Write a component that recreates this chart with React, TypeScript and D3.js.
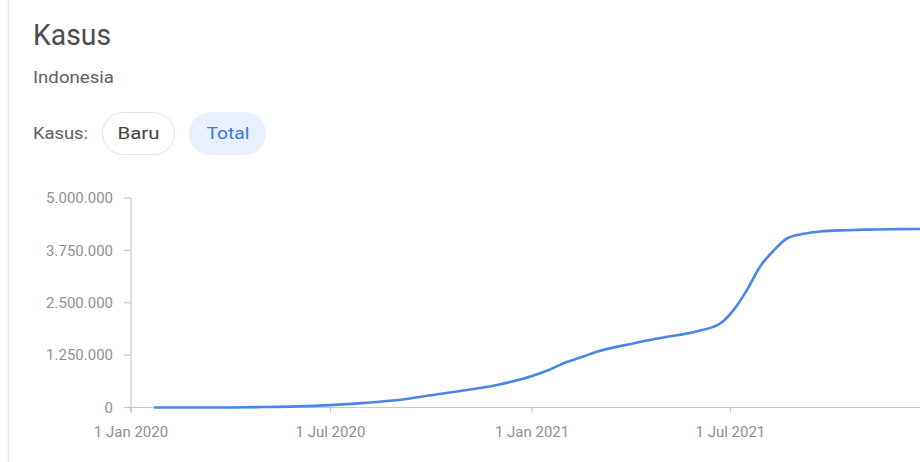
import React from "react";
import * as d3 from "d3";

const dates = [
  "2020-01-22", "2020-03-01", "2020-04-01", "2020-05-01", "2020-06-01", "2020-07-01",
  "2020-08-01", "2020-09-01", "2020-10-01", "2020-11-01", "2020-12-01", "2021-01-01",
  "2021-01-15", "2021-02-01", "2021-02-15", "2021-03-01", "2021-04-01", "2021-05-01",
  "2021-06-01", "2021-06-22", "2021-07-04", "2021-07-16", "2021-07-28", "2021-08-10",
  "2021-08-22", "2021-09-09", "2021-09-21", "2021-10-15", "2021-11-01", "2021-12-01",
  "2021-12-22",
];
const totals = [
  0, 0, 1677, 10551, 26940, 57770,
  109936, 177571, 291182, 412784, 543975, 751270,
  882418, 1080000, 1200000, 1330000, 1517854, 1672880,
  1821703, 2010000, 2330000, 2800000, 3360000, 3760000,
  4040000, 4160000, 4200000, 4232000, 4245373, 4256409,
  4261000,
];
const yTicks = [0, 1250000, 2500000, 3750000, 5000000];
const xTickDates = ["2020-01-01", "2020-07-01", "2021-01-01", "2021-07-01"];
const title = "Kasus";
const subtitle = "Indonesia";
const chipLabel = "Kasus:";
const chips = ["Baru", "Total"];

const parse = d3.utcParse("%Y-%m-%d");
const locale = d3.formatLocale({ decimal: ",", thousands: ".", grouping: [3], currency: ["", ""] });
const fmtY = locale.format(",d");
const fmtX = d3.utcFormat("%-d %b %Y");

export default function App() {
  const W = 920, H = 462;
  const x0 = 131, x1 = 920;
  const y0 = 407.5, y1 = 198;
  const x = d3.scaleUtc()
    .domain([parse("2020-01-01")!, parse("2021-12-21")!])
    .range([x0, x1]);
  const y = d3.scaleLinear().domain([0, 5000000]).range([y0, y1]);
  const pts = dates.map((d, i) => [parse(d)!, totals[i]] as [Date, number]);
  const line = d3.line<[Date, number]>()
    .x(d => x(d[0]))
    .y(d => y(d[1]))
    .curve(d3.curveMonotoneX);
  const axisColor = "#c8c8c8";
  const labelColor = "#909090";
  const font = "Roboto, Arial, sans-serif";

  return (
    <svg width={W} height={H} style={{ position: "absolute", left: 0, top: 0, display: "block", background: "#fff" }}>
      <defs>
        <clipPath id="plot"><rect x={x0} y={0} width={W - x0} height={H} /></clipPath>
      </defs>
      <line x1={8.5} x2={8.5} y1={0} y2={H} stroke="#ececec" strokeWidth={1.5} />
      <text x={33} y={45} fontFamily={font} fontSize={29} fill="#4d4d4d" textLength={78} lengthAdjust="spacingAndGlyphs">{title}</text>
      <text x={33} y={83} fontFamily={font} fontSize={17} fill="#606060" textLength={81} lengthAdjust="spacingAndGlyphs">{subtitle}</text>
      <text x={33} y={139} fontFamily={font} fontSize={16} fill="#606060" textLength={55} lengthAdjust="spacingAndGlyphs">{chipLabel}</text>
      <rect x={102.5} y={112.5} width={72} height={42} rx={21} fill="#fff" stroke="#e3e3e3" strokeWidth={1} />
      <text x={138.5} y={139} textAnchor="middle" fontFamily={font} fontSize={16} fill="#444" textLength={42} lengthAdjust="spacingAndGlyphs">{chips[0]}</text>
      <rect x={189} y={112} width={77} height={43} rx={21.5} fill="#e8f0fe" />
      <text x={228} y={139} textAnchor="middle" fontFamily={font} fontSize={16} fill="#3b78e7" textLength={43} lengthAdjust="spacingAndGlyphs">{chips[1]}</text>

      {/* y axis */}
      <line x1={x0} x2={x0} y1={y1} y2={y0 + 5} stroke={axisColor} strokeWidth={1.2} />
      {yTicks.map(t => (
        <g key={t}>
          <line x1={x0 - 7} x2={x0} y1={y(t)} y2={y(t)} stroke={axisColor} strokeWidth={1.2} />
          <text x={113} y={y(t)} dy="0.35em" textAnchor="end" fontFamily={font} fontSize={15} fill={labelColor}>{fmtY(t)}</text>
        </g>
      ))}
      {/* x axis */}
      <line x1={x0 - 7} x2={x1} y1={y0} y2={y0} stroke={axisColor} strokeWidth={1.2} />
      {xTickDates.map(s => {
        const d = parse(s)!;
        return (
          <g key={s}>
            <line x1={x(d)} x2={x(d)} y1={y0} y2={y0 + 5} stroke={axisColor} strokeWidth={1.2} />
            <text x={x(d)} y={437} textAnchor="middle" fontFamily={font} fontSize={15} fill={labelColor}>{fmtX(d)}</text>
          </g>
        );
      })}
      <path d={line(pts) || ""} fill="none" stroke="#4a86e8" strokeWidth={2.6} clipPath="url(#plot)" strokeLinejoin="round" />
    </svg>
  );
}
